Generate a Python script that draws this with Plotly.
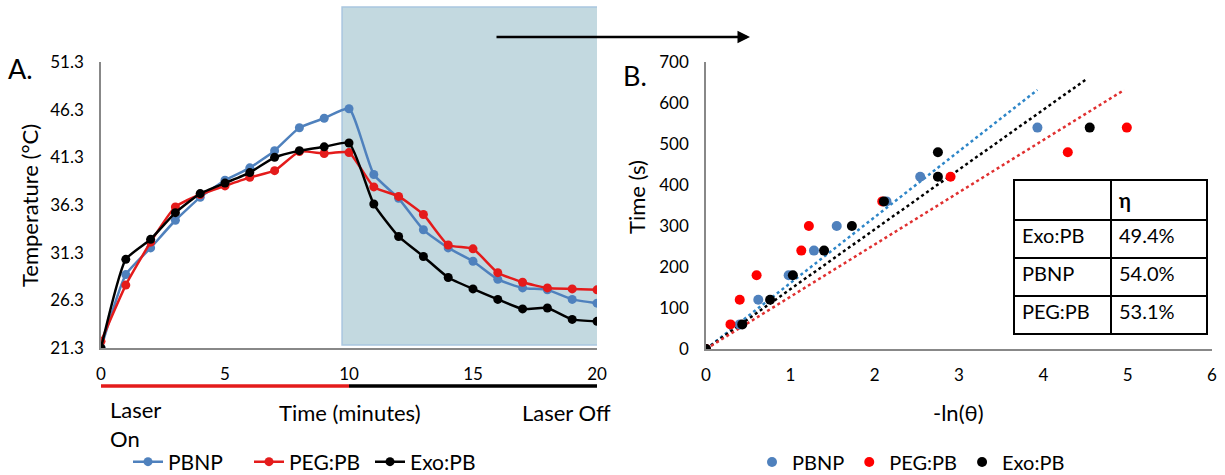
import plotly.graph_objects as go

# ---------------- data ----------------
time_min = list(range(21))
pbnp_temp = [21.3, 29.0, 31.8, 34.7, 37.1, 38.9, 40.2, 42.0, 44.4, 45.4, 46.4,
             39.5, 37.0, 33.7, 31.8, 30.4, 28.5, 27.6, 27.4, 26.4, 26.0]
peg_temp = [22.0, 27.9, 32.4, 36.1, 37.4, 38.3, 39.2, 39.9, 41.9, 41.7, 41.8,
            38.2, 37.2, 35.3, 32.1, 31.7, 29.2, 28.2, 27.6, 27.5, 27.4]
exo_temp = [21.3, 30.6, 32.7, 35.5, 37.5, 38.6, 39.7, 41.3, 42.0, 42.4, 42.8,
            36.4, 33.0, 30.9, 28.7, 27.5, 26.4, 25.4, 25.5, 24.3, 24.1]
temp_ticks = [21.3, 26.3, 31.3, 36.3, 41.3, 46.3, 51.3]
time_ticks = [0, 5, 10, 15, 20]

pbnp_lnx = [0, 0.40, 0.62, 0.98, 1.28, 1.55, 2.14, 2.54, 3.93]
pbnp_ts = [0, 60, 120, 180, 240, 300, 360, 420, 540]
peg_lnx = [0, 0.29, 0.40, 0.60, 1.13, 1.22, 2.09, 2.90, 4.29, 4.99]
peg_ts = [0, 60, 120, 180, 240, 300, 360, 420, 480, 540]
exo_lnx = [0, 0.43, 0.76, 1.03, 1.40, 1.73, 2.11, 2.75, 2.75, 4.55]
exo_ts = [0, 60, 120, 180, 240, 300, 360, 420, 480, 540]

pbnp_trend_x = [0, 3.93]
pbnp_trend_y = [0, 632]
exo_trend_x = [0, 4.51]
exo_trend_y = [0, 658]
peg_trend_x = [0, 4.96]
peg_trend_y = [0, 632]

table_names = ["Exo:PB", "PBNP", "PEG:PB"]
table_eta = ["49.4%", "54.0%", "53.1%"]

# ---------------- style ----------------
W, H = 1225, 475
FONT = "Lato"
BLUE = "#4f81bd"
RED = "#e41b1b"
BLACK = "#000000"


def px(x):
    return x / W


def py(y):
    return 1 - y / H


fig = go.Figure()

# left chart lines
for name, vals, col in [("PBNP", pbnp_temp, BLUE), ("PEG:PB", peg_temp, RED), ("Exo:PB", exo_temp, BLACK)]:
    fig.add_trace(go.Scatter(x=time_min, y=vals, name=name, mode="lines+markers",
                             line=dict(color=col, width=2.5, shape="spline", smoothing=0.5),
                             marker=dict(color=col, size=9), xaxis="x", yaxis="y",
                             legend="legend"))

# right chart trendlines
for tx, ty, col in [(pbnp_trend_x, pbnp_trend_y, "#2e86c8"), (exo_trend_x, exo_trend_y, BLACK),
                    (peg_trend_x, peg_trend_y, "#e03030")]:
    fig.add_trace(go.Scatter(x=tx, y=ty, mode="lines", showlegend=False,
                             line=dict(color=col, width=2.5, dash="dot"), xaxis="x2", yaxis="y2"))

# right chart scatter
for name, xs, ys, col in [("PBNP", pbnp_lnx, pbnp_ts, BLUE), ("PEG:PB", peg_lnx, peg_ts, "#ff0000"),
                          ("Exo:PB", exo_lnx, exo_ts, BLACK)]:
    fig.add_trace(go.Scatter(x=xs, y=ys, name=name, mode="markers",
                             marker=dict(color=col, size=10), xaxis="x2", yaxis="y2",
                             legend="legend2"))

# table
fig.add_trace(go.Table(
    domain=dict(x=[px(1014), px(1207)], y=[py(345), py(180)]),
    columnwidth=[97, 96],
    header=dict(values=["", "<b>η</b>"], align="left", height=38,
                fill_color="white", line=dict(color="black", width=1.5),
                font=dict(family=FONT, size=20, color="black")),
    cells=dict(values=[table_names, table_eta], align="left", height=38,
               fill_color="white", line=dict(color="black", width=1.5),
               font=dict(family=FONT, size=20, color="black")),
))

axis_common = dict(showgrid=False, zeroline=False, showline=True, linecolor="#888888",
                   linewidth=1.5, ticks="", automargin=False,
                   tickfont=dict(family=FONT, size=17, color="black"))

fig.update_layout(
    width=W, height=H, margin=dict(l=0, r=0, t=0, b=0, autoexpand=False),
    paper_bgcolor="white", plot_bgcolor="rgba(0,0,0,0)",
    font=dict(family=FONT, color="black"),
    xaxis=dict(domain=[px(101), px(597)], range=[0, 20], tickvals=time_ticks,
               ticklabelstandoff=10, anchor="y", **axis_common),
    yaxis=dict(domain=[py(348), py(62)], range=[21.3, 51.3], tickvals=temp_ticks,
               ticktext=[f"{v:.1f}" for v in temp_ticks], ticklabelstandoff=12,
               anchor="x", **axis_common),
    xaxis2=dict(domain=[px(706), px(1212)], range=[0, 6], dtick=1,
                ticklabelstandoff=10, anchor="y2", **axis_common),
    yaxis2=dict(domain=[py(349), py(62)], range=[0, 700], dtick=100,
                ticklabelstandoff=12, anchor="x2", **axis_common),
    legend=dict(orientation="h", x=px(128), y=py(462), xanchor="left", yanchor="middle",
                font=dict(family=FONT, size=21, color="black"), bgcolor="rgba(0,0,0,0)",
                itemwidth=30, entrywidth=76, entrywidthmode="pixels", tracegroupgap=0),
    legend2=dict(orientation="h", x=px(752), y=py(462), xanchor="left", yanchor="middle",
                 font=dict(family=FONT, size=20, color="black"), bgcolor="rgba(0,0,0,0)",
                 itemwidth=30),
)

# shaded region (laser off)
fig.add_shape(type="rect", xref="x", yref="paper", x0=9.72, x1=20.08, y0=py(345), y1=py(7),
              fillcolor="#c3d9e0", line=dict(color="#a9c6df", width=1.5), layer="below")

# laser bar under the x axis
fig.add_shape(type="line", xref="x", yref="paper", x0=0, x1=10, y0=py(386), y1=py(386),
              line=dict(color="#e41b1b", width=3.5))
fig.add_shape(type="line", xref="x", yref="paper", x0=10, x1=20, y0=py(386), y1=py(386),
              line=dict(color="black", width=3.5))

annots = [
    dict(text="A.", x=px(6), y=py(68), xanchor="left", size=27),
    dict(text="B.", x=px(621), y=py(75), xanchor="left", size=27),
    dict(text="Laser<br>On", x=px(108), y=py(424), xanchor="left", size=22, align="left"),
    dict(text="Time (minutes)", x=px(350), y=py(412), xanchor="center", size=22),
    dict(text="Laser Off", x=px(613), y=py(412), xanchor="right", size=22),
    dict(text="-ln(θ)", x=px(958), y=py(412), xanchor="center", size=22),
]
for a in annots:
    fig.add_annotation(text=a["text"], x=a["x"], y=a["y"], xref="paper", yref="paper",
                       xanchor=a["xanchor"], yanchor="middle", showarrow=False,
                       align=a.get("align", "center"),
                       font=dict(family=FONT, size=a["size"], color="black"))

fig.add_annotation(text="Temperature (°C)", x=px(29), y=py(206), xref="paper", yref="paper",
                   textangle=-90, showarrow=False, xanchor="center", yanchor="middle",
                   font=dict(family=FONT, size=22, color="black"))
fig.add_annotation(text="Time (s)", x=px(636), y=py(197), xref="paper", yref="paper",
                   textangle=-90, showarrow=False, xanchor="center", yanchor="middle",
                   font=dict(family=FONT, size=22, color="black"))

# arrow
fig.add_annotation(text="", x=px(750), y=py(37), xref="paper", yref="paper",
                   ax=-255, ay=0, showarrow=True, arrowhead=2, arrowsize=1,
                   arrowwidth=2.5, arrowcolor="black")

# remove the default page margin so the figure sits at the window's top-left corner
fig.write_html("out.html", config={"displayModeBar": False},
               post_script="document.body.style.margin='0px';")
